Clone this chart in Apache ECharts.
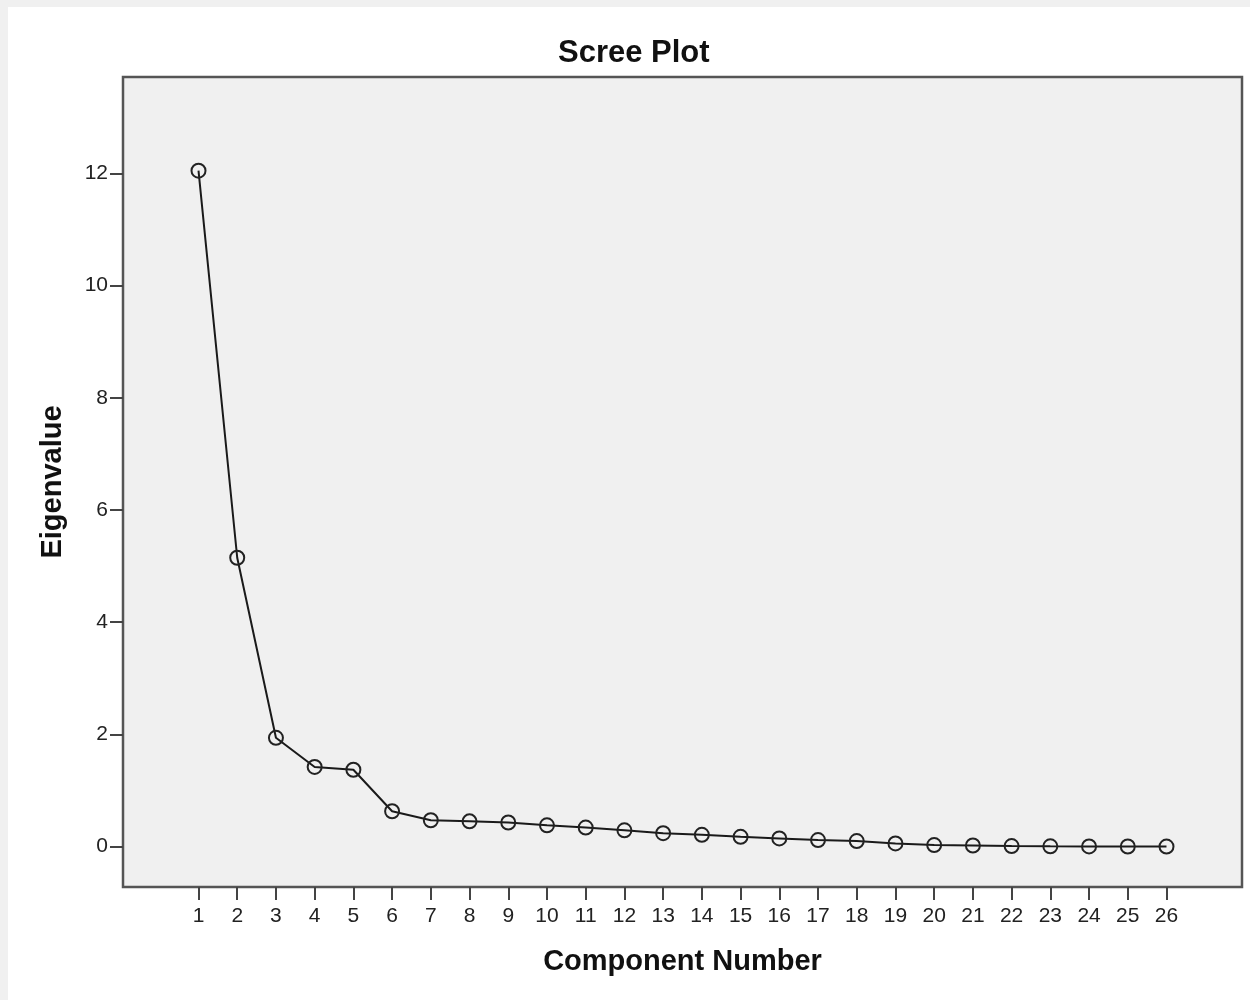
<!DOCTYPE html>
<html>
<head>
<meta charset="utf-8">
<script src="https://cdn.jsdelivr.net/npm/echarts@6/dist/echarts.min.js"></script>
<style>
html,body{margin:0;padding:0;background:#fff;}
#chart{width:1250px;height:1000px;}
</style>
</head>
<body>
<div id="chart"></div>
<script>
var components = [1,2,3,4,5,6,7,8,9,10,11,12,13,14,15,16,17,18,19,20,21,22,23,24,25,26];
var eigenvalues = [12.05,5.15,1.94,1.42,1.37,0.63,0.47,0.45,0.43,0.38,0.34,0.29,0.24,0.21,0.175,0.146,0.116,0.098,0.057,0.027,0.02,0.01,0.005,0.003,0.002,0.001];
var yTicks = [0,2,4,6,8,10,12];
var xTicks = components;

var FONT = 'Liberation Sans, Arial, sans-serif';
var chart = echarts.init(document.getElementById('chart'));
chart.setOption({
  backgroundColor: '#ffffff',
  animation: false,
  graphic: [
    {type:'rect', left:0, top:0, shape:{width:1250, height:7}, style:{fill:'#f0f0f0'}, silent:true, z:-10},
    {type:'rect', left:0, top:0, shape:{width:8, height:1000}, style:{fill:'#f0f0f0'}, silent:true, z:-10}
  ],
  title: {
    text: 'Scree Plot',
    left: 553,
    top: 33,
    textStyle: {fontFamily: FONT, fontSize: 31, fontWeight: 'bold', color: '#111'}
  },
  grid: {
    left: 123, right: 8, top: 77, bottom: 113,
    show: true,
    backgroundColor: '#f0f0f0',
    borderColor: '#555',
    borderWidth: 2.5
  },
  xAxis: {
    type: 'value',
    min: -0.95, max: 27.95,
    name: 'Component Number',
    nameLocation: 'middle',
    nameGap: 60,
    nameTextStyle: {fontFamily: FONT, fontSize: 29, fontWeight: 'bold', color: '#111'},
    axisLine: {show: false, onZero: false},
    axisTick: {show: true, length: 13, inside: false, customValues: xTicks, lineStyle: {color: '#444', width: 2}},
    axisLabel: {show: true, customValues: xTicks, margin: 19, fontFamily: FONT, fontSize: 21, color: '#222'},
    splitLine: {show: false}
  },
  yAxis: {
    type: 'value',
    min: -0.72, max: 13.72,
    name: 'Eigenvalue',
    nameLocation: 'middle',
    nameGap: 56,
    nameRotate: 90,
    nameTextStyle: {fontFamily: FONT, fontSize: 29, fontWeight: 'bold', color: '#111'},
    axisLine: {show: false, onZero: false},
    axisTick: {show: true, length: 13, customValues: yTicks, lineStyle: {color: '#444', width: 2}},
    axisLabel: {show: true, customValues: yTicks, margin: 15, fontFamily: FONT, fontSize: 21, color: '#222'},
    splitLine: {show: false}
  },
  series: [{
    type: 'line',
    data: components.map(function(c, i){ return [c, eigenvalues[i]]; }),
    symbol: 'circle',
    symbolSize: 14,
    showAllSymbol: true,
    lineStyle: {color: '#1a1a1a', width: 2},
    itemStyle: {color: 'rgba(0,0,0,0)', borderColor: '#222', borderWidth: 2},
    emphasis: {disabled: true}
  }]
});
</script>
</body>
</html>
